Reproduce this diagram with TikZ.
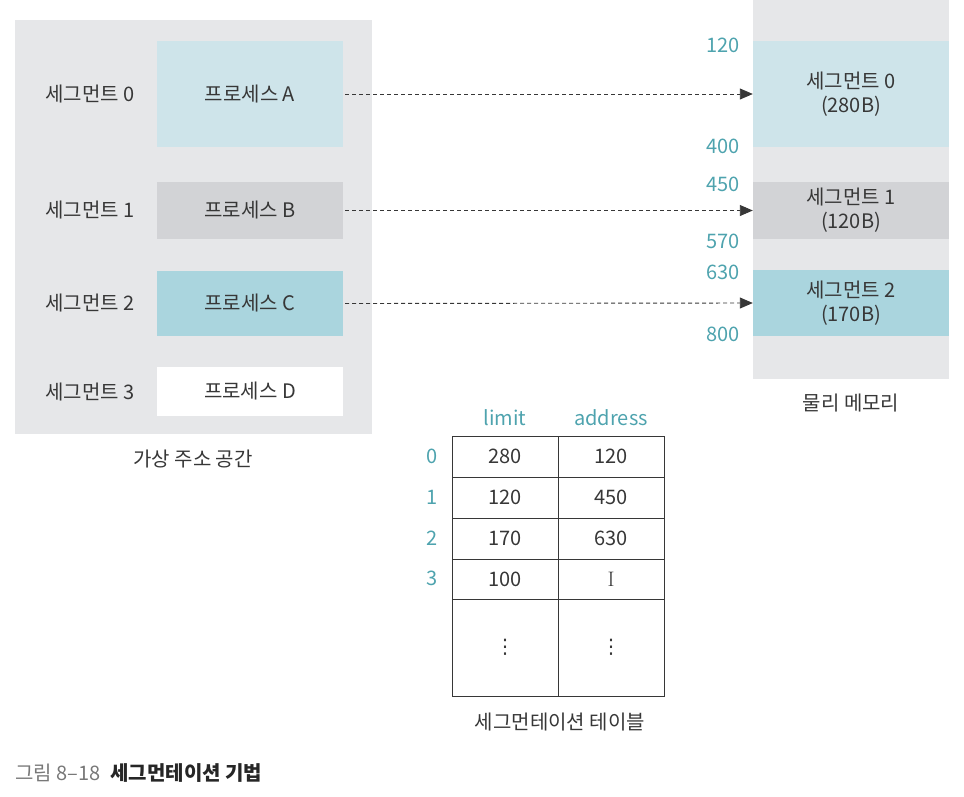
\documentclass[tikz,border=0pt]{standalone}
\usepackage{fontspec}
\setsansfont{Noto Sans CJK KR}
\newfontfamily\dotsfont{DejaVu Sans}
\usetikzlibrary{arrows.meta}

\definecolor{bggray}{RGB}{230,231,233}
\definecolor{segblue}{RGB}{206,228,234}
\definecolor{seggray}{RGB}{210,211,214}
\definecolor{segteal}{RGB}{170,213,222}
\definecolor{addrteal}{RGB}{78,163,174}
\definecolor{txtgray}{RGB}{55,55,55}
\definecolor{capgray}{RGB}{120,120,120}

\tikzset{
  lbl/.style={font=\sffamily\fontsize{20}{24}\selectfont, text=txtgray},
  addr/.style={font=\sffamily\fontsize{20}{24}\selectfont, text=addrteal},
  procbox/.style={lbl, minimum width=186pt, inner sep=0pt},
  physbox/.style={lbl, minimum width=196pt, inner sep=0pt, align=center},
  cell/.style={lbl, draw=txtgray, line width=0.9pt, minimum width=106pt, inner sep=0pt},
  conn/.style={dash pattern=on 4pt off 3pt, draw=txtgray, line width=0.9pt, -{Triangle[length=13pt,width=11pt]}},
}

\begin{document}
\begin{tikzpicture}[x=1pt,y=-1pt]
  \useasboundingbox (0,0) rectangle (964,796);

  % virtual address space
  \fill[bggray] (15,20) rectangle (372,434);
  \node[procbox, fill=segblue, minimum height=106pt] (pa) at (250,94) {프로세스 A};
  \node[procbox, fill=seggray, minimum height=57pt] (pb) at (250,210.5) {프로세스 B};
  \node[procbox, fill=segteal, minimum height=65pt] (pc) at (250,303.5) {프로세스 C};
  \node[procbox, fill=white, minimum height=49pt] (pd) at (250,391.5) {프로세스 D};
  \node[lbl] (v0) at (90,94) {세그먼트 0};
  \node[lbl] (v1) at (90,210) {세그먼트 1};
  \node[lbl] (v2) at (90,303) {세그먼트 2};
  \node[lbl] (v3) at (90,392) {세그먼트 3};
  \node[lbl] (vlabel) at (193,459) {가상 주소 공간};

  % physical memory
  \fill[bggray] (753,0) rectangle (949,379);
  \node[physbox, fill=segblue, minimum height=106pt] (s0) at (851,94) {세그먼트 0\\(280B)};
  \node[physbox, fill=seggray, minimum height=57pt] (s1) at (851,210.5) {세그먼트 1\\(120B)};
  \node[physbox, fill=segteal, minimum height=66pt] (s2) at (851,303) {세그먼트 2\\(170B)};
  \node[addr, anchor=east] (a120) at (743,45) {120};
  \node[addr, anchor=east] (a400) at (743,146) {400};
  \node[addr, anchor=east] (a450) at (743,184) {450};
  \node[addr, anchor=east] (a570) at (743,241) {570};
  \node[addr, anchor=east] (a630) at (743,272) {630};
  \node[addr, anchor=east] (a800) at (743,334) {800};
  \node[lbl] (plabel) at (851,403) {물리 메모리};

  \draw[conn] (pa.east) ++(2,0) -- (s0.west);
  \draw[conn] (pb.east) ++(2,0) -- (s1.west);
  \draw[conn] (pc.east) ++(2,0) -- (s2.west);

  % segment table
  \node[addr] (hlimit) at (505,418) {limit};
  \node[addr] (haddr) at (611,418) {address};
  \node[cell, minimum height=41pt] (l0) at (505,456.5) {280};
  \node[cell, minimum height=41pt] (d0) at (611,456.5) {120};
  \node[cell, minimum height=41pt] (l1) at (505,497.5) {120};
  \node[cell, minimum height=41pt] (d1) at (611,497.5) {450};
  \node[cell, minimum height=41pt] (l2) at (505,538.5) {170};
  \node[cell, minimum height=41pt] (d2) at (611,538.5) {630};
  \node[cell, minimum height=40pt] (l3) at (505,579) {100};
  \node[cell, minimum height=40pt] (d3) at (611,579) {\rmfamily\fontsize{21}{24}\selectfont I};
  \node[cell, minimum height=97pt] (l4) at (505,647.5) {\dotsfont ⋮};
  \node[cell, minimum height=97pt] (d4) at (611,647.5) {\dotsfont ⋮};
  \node[addr] (i0) at (432,456.5) {0};
  \node[addr] (i1) at (432,497.5) {1};
  \node[addr] (i2) at (432,538.5) {2};
  \node[addr] (i3) at (432,578) {3};
  \node[lbl] (tlabel) at (560,722) {세그먼테이션 테이블};

  % caption
  \node[lbl, anchor=west, inner sep=0pt] (cap) at (15,773)
    {{\color{capgray}그림 8–18}\hspace{0.5em}{\bfseries\color{black!85}세그먼테이션 기법}};
\end{tikzpicture}
\end{document}
